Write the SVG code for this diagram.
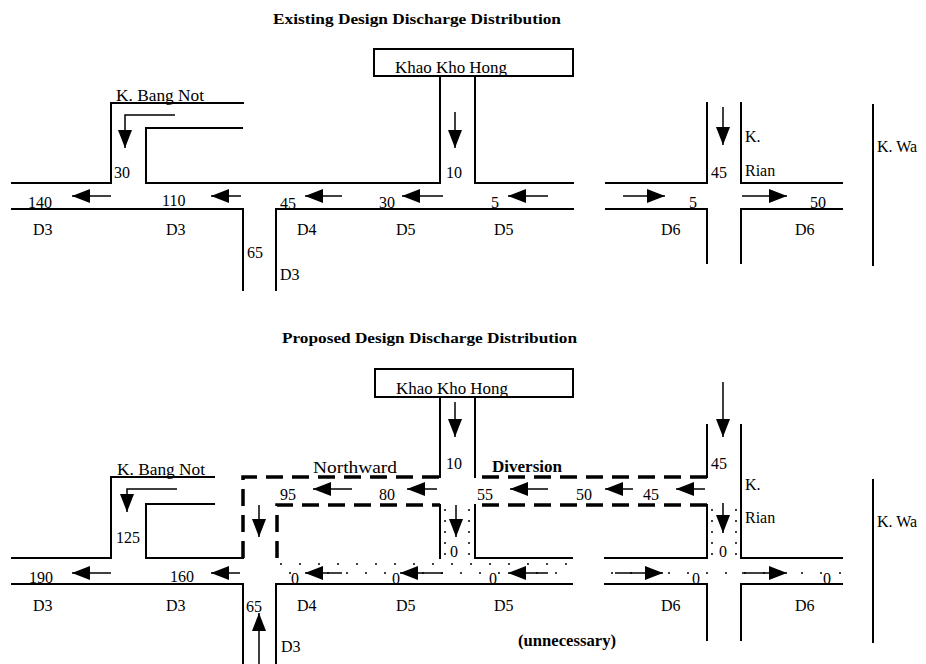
<svg xmlns="http://www.w3.org/2000/svg" width="926" height="664" viewBox="0 0 926 664">
<style>
.w{fill:none;stroke:#000;stroke-width:2;stroke-linecap:square}
.d{fill:none;stroke:#000;stroke-width:3.5;stroke-dasharray:17 9}
.a{fill:none;stroke:#000;stroke-width:1.5}
.s{fill:none;stroke:#000;stroke-width:2;stroke-linecap:round}
text{font-family:"Liberation Serif","Times New Roman",serif;font-size:16px;fill:#000}
.t{font-weight:bold;font-size:15px}
.b{font-weight:bold}
</style>
<defs>
<marker id="ah" viewBox="0 0 18 14" refX="18" refY="7" markerWidth="18" markerHeight="14" markerUnits="userSpaceOnUse" orient="auto">
<path d="M0,0 L18,7 L0,14 z" fill="#000"/>
</marker>
</defs>
<rect width="926" height="664" fill="#fff"/>

<!-- EXISTING -->
<g id="existing-title"><text class="t" x="273" y="24" textLength="288" lengthAdjust="spacingAndGlyphs">Existing Design Discharge Distribution</text></g>

<g id="e-khao">
<rect class="w" x="374" y="49" width="199" height="27"/>
<text x="395" y="73" textLength="112" lengthAdjust="spacingAndGlyphs">Khao Kho Hong</text>
<line class="w" x1="440" y1="76" x2="440" y2="183"/>
<line class="w" x1="475" y1="76" x2="475" y2="183"/>
<text x="446" y="178">10</text>
</g>

<g id="e-bangnot">
<polyline class="w" points="12,183 111,183 111,103 243,103"/>
<polyline class="w" points="242,128 146,128 146,183 440,183"/>
<text x="116" y="101" textLength="88" lengthAdjust="spacingAndGlyphs">K. Bang Not</text>
<text x="114" y="178">30</text>
</g>

<g id="e-main">
<polyline class="w" points="12,209 243,209 243,290"/>
<polyline class="w" points="276,290 276,209 573,209"/>
<line class="w" x1="475" y1="183" x2="573" y2="183"/>
<polyline class="w" points="606,183 707,183 707,103"/>
<polyline class="w" points="741,103 741,183 842,183"/>
<polyline class="w" points="606,209 707,209 707,263"/>
<polyline class="w" points="741,263 741,209 842,209"/>
<text x="28" y="208">140</text>
<text x="162" y="206">110</text>
<text x="280" y="209">45</text>
<text x="379" y="208">30</text>
<text x="491" y="208">5</text>
<text x="689" y="208">5</text>
<text x="810" y="208">50</text>
<text x="33" y="235">D3</text>
<text x="166" y="235">D3</text>
<text x="297" y="235">D4</text>
<text x="396" y="235">D5</text>
<text x="494" y="235">D5</text>
<text x="661" y="235">D6</text>
<text x="795" y="235">D6</text>
<text x="247" y="258">65</text>
<text x="280" y="280">D3</text>
</g>

<g id="e-rian">
<text x="711" y="178">45</text>
<text x="745" y="142">K.</text>
<text x="745" y="176">Rian</text>
</g>

<g id="e-wa">
<line class="w" x1="873" y1="105" x2="873" y2="265"/>
<text x="877" y="152">K. Wa</text>
</g>

<!-- PROPOSED -->
<g id="proposed-title"><text class="t" x="282" y="343" textLength="295" lengthAdjust="spacingAndGlyphs">Proposed Design Discharge Distribution</text></g>

<g id="p-stipple">
<line class="s" x1="281" y1="564" x2="572" y2="564" stroke-dasharray="0 19"/>
<line class="s" x1="290" y1="573" x2="572" y2="573" stroke-dasharray="0 19"/>
<line class="s" x1="612" y1="573" x2="842" y2="573" stroke-dasharray="0 19"/>
<line class="s" x1="445" y1="510" x2="445" y2="556" stroke-dasharray="0 11"/>
<line class="s" x1="469" y1="510" x2="469" y2="556" stroke-dasharray="0 11"/>
<line class="s" x1="712" y1="510" x2="712" y2="556" stroke-dasharray="0 11"/>
<line class="s" x1="736" y1="510" x2="736" y2="556" stroke-dasharray="0 11"/>
</g>

<g id="p-khao">
<rect class="w" x="375" y="369" width="198" height="28"/>
<text x="396" y="394" textLength="112" lengthAdjust="spacingAndGlyphs">Khao Kho Hong</text>
<line class="w" x1="440" y1="397" x2="440" y2="477"/>
<line class="w" x1="475" y1="397" x2="475" y2="477"/>
<line class="w" x1="440" y1="505" x2="440" y2="558"/>
<line class="w" x1="475" y1="505" x2="475" y2="558"/>
<text x="446" y="469">10</text>
<text x="450" y="557">0</text>
</g>

<g id="p-bangnot">
<polyline class="w" points="12,558 111,558 111,477 214,477"/>
<polyline class="w" points="214,504 146,504 146,558 243,558"/>
<text x="117" y="475" textLength="88" lengthAdjust="spacingAndGlyphs">K. Bang Not</text>
<text x="116" y="543">125</text>
</g>

<g id="p-northward">
<polyline class="d" points="243,558 243,477 440,477"/>
<polyline class="d" points="277,558 277,505 440,505"/>
<text x="313" y="473" textLength="84" lengthAdjust="spacingAndGlyphs">Northward</text>
<text x="280" y="500">95</text>
<text x="379" y="500">80</text>
</g>

<g id="p-diversion">
<line class="d" x1="482" y1="477" x2="707" y2="477"/>
<line class="d" x1="482" y1="505" x2="707" y2="505"/>
<text class="b" x="492" y="472" textLength="70" lengthAdjust="spacingAndGlyphs">Diversion</text>
<text x="477" y="500">55</text>
<text x="576" y="500">50</text>
<text x="643" y="500">45</text>
</g>

<g id="p-main">
<polyline class="w" points="12,584 243,584 243,664"/>
<polyline class="w" points="276,664 276,584 572,584"/>
<line class="w" x1="475" y1="558" x2="572" y2="558"/>
<line class="w" x1="605" y1="558" x2="707" y2="558"/>
<polyline class="w" points="605,584 707,584 707,640"/>
<polyline class="w" points="741,640 741,584 842,584"/>
<text x="29" y="583">190</text>
<text x="170" y="582">160</text>
<text x="291" y="584">0</text>
<text x="392" y="584">0</text>
<text x="489" y="584">0</text>
<text x="692" y="584">0</text>
<text x="823" y="584">0</text>
<text x="33" y="611">D3</text>
<text x="166" y="611">D3</text>
<text x="297" y="611">D4</text>
<text x="396" y="611">D5</text>
<text x="494" y="611">D5</text>
<text x="661" y="611">D6</text>
<text x="795" y="611">D6</text>
<text x="246" y="612">65</text>
<text x="281" y="652">D3</text>
<text class="b" x="518" y="646" textLength="98" lengthAdjust="spacingAndGlyphs">(unnecessary)</text>
</g>

<g id="p-rian">
<polyline class="w" points="707,425 707,477"/>
<polyline class="w" points="707,505 707,558"/>
<polyline class="w" points="741,425 741,558 842,558"/>
<text x="711" y="469">45</text>
<text x="745" y="490">K.</text>
<text x="745" y="523">Rian</text>
<text x="719" y="557">0</text>
</g>

<g id="p-wa">
<line class="w" x1="873" y1="480" x2="873" y2="642"/>
<text x="877" y="527">K. Wa</text>
</g>

<!-- CONNECTORS / FLOW ARROWS -->
<g id="connectors">
<!-- existing -->
<polyline class="a" points="175,115 125,115 125,148" marker-end="url(#ah)"/>
<line class="a" x1="455" y1="112" x2="455" y2="148" marker-end="url(#ah)"/>
<line class="a" x1="723" y1="107" x2="723" y2="145" marker-end="url(#ah)"/>
<line class="a" x1="111" y1="196" x2="72" y2="196" marker-end="url(#ah)"/>
<line class="a" x1="241" y1="196" x2="211" y2="196" marker-end="url(#ah)"/>
<line class="a" x1="342" y1="196" x2="305" y2="196" marker-end="url(#ah)"/>
<line class="a" x1="443" y1="196" x2="402" y2="196" marker-end="url(#ah)"/>
<line class="a" x1="548" y1="196" x2="508" y2="196" marker-end="url(#ah)"/>
<line class="a" x1="623" y1="196" x2="665" y2="196" marker-end="url(#ah)"/>
<line class="a" x1="742" y1="196" x2="787" y2="196" marker-end="url(#ah)"/>
<!-- proposed -->
<polyline class="a" points="177,489 127,489 127,512" marker-end="url(#ah)"/>
<line class="a" x1="455" y1="402" x2="455" y2="437" marker-end="url(#ah)"/>
<line class="a" x1="723" y1="382" x2="723" y2="437" marker-end="url(#ah)"/>
<line class="a" x1="259" y1="505" x2="259" y2="537" marker-end="url(#ah)"/>
<line class="a" x1="259" y1="664" x2="259" y2="613" marker-end="url(#ah)"/>
<line class="a" x1="456" y1="505" x2="456" y2="537" marker-end="url(#ah)"/>
<line class="a" x1="723" y1="503" x2="723" y2="533" marker-end="url(#ah)"/>
<line class="a" x1="111" y1="573" x2="72" y2="573" marker-end="url(#ah)"/>
<line class="a" x1="240" y1="573" x2="211" y2="573" marker-end="url(#ah)"/>
<line class="a" x1="352" y1="489" x2="313" y2="489" marker-end="url(#ah)"/>
<line class="a" x1="437" y1="489" x2="407" y2="489" marker-end="url(#ah)"/>
<line class="a" x1="548" y1="489" x2="510" y2="489" marker-end="url(#ah)"/>
<line class="a" x1="633" y1="489" x2="605" y2="489" marker-end="url(#ah)"/>
<line class="a" x1="705" y1="489" x2="676" y2="489" marker-end="url(#ah)"/>
<line class="a" x1="342" y1="573" x2="305" y2="573" marker-end="url(#ah)"/>
<line class="a" x1="443" y1="573" x2="400" y2="573" marker-end="url(#ah)"/>
<line class="a" x1="548" y1="573" x2="508" y2="573" marker-end="url(#ah)"/>
<line class="a" x1="615" y1="573" x2="663" y2="573" marker-end="url(#ah)"/>
<line class="a" x1="742" y1="573" x2="787" y2="573" marker-end="url(#ah)"/>
</g>
</svg>
